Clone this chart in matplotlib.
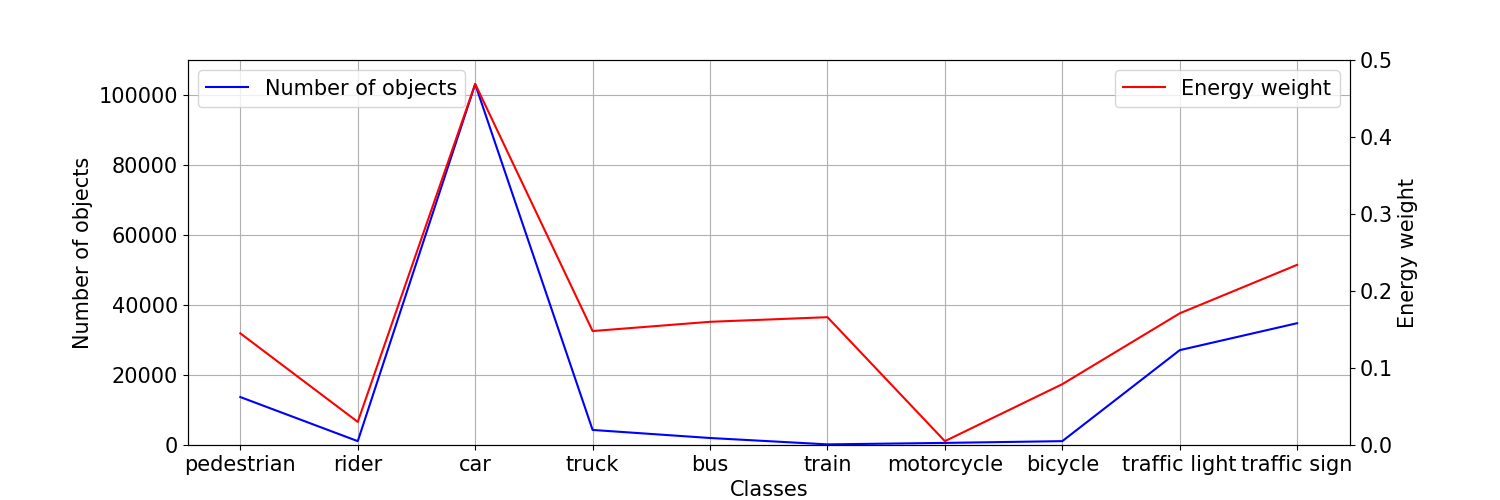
import matplotlib
matplotlib.use("Agg")
import matplotlib.pyplot as plt

classes = ['pedestrian', 'rider', 'car', 'truck', 'bus', 'train',
           'motorcycle', 'bicycle', 'traffic light', 'traffic sign']
num_objects = [13700, 1100, 103100, 4300, 2000, 180, 600, 1100, 27100, 34800]
energy_weight = [0.145, 0.030, 0.469, 0.148, 0.160, 0.166, 0.005, 0.079, 0.171, 0.234]

plt.rcParams['font.size'] = 15

fig, ax1 = plt.subplots(figsize=(15, 5), dpi=100)
ax1.plot(classes, num_objects, color='blue', label='Number of objects')
ax1.set_xlabel('Classes')
ax1.set_ylabel('Number of objects')
ax1.set_ylim(0, 110000)
ax1.grid(True)
ax1.legend(loc='upper left')

ax2 = ax1.twinx()
ax2.plot(classes, energy_weight, color='red', label='Energy weight')
ax2.set_ylabel('Energy weight')
ax2.set_ylim(0, 0.5)
ax2.legend(loc='upper right')

plt.savefig('out.png')
